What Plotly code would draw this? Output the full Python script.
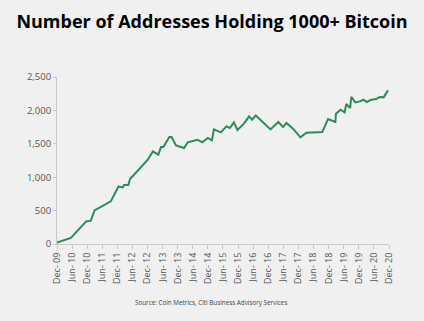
import plotly.graph_objects as go

# Addresses holding at least 1000 BTC, sampled at turning points
dates = [
    "2009-12-01", "2010-05-18", "2010-11-19", "2011-01-15", "2011-02-28",
    "2011-09-13", "2011-12-15", "2012-02-05", "2012-02-21", "2012-04-12",
    "2012-05-03", "2012-12-04", "2013-02-03", "2013-04-10", "2013-05-13",
    "2013-06-10", "2013-08-22", "2013-09-18", "2013-11-10", "2014-02-16",
    "2014-04-01", "2014-07-28", "2014-09-24", "2014-12-01", "2015-01-19",
    "2015-02-12", "2015-05-07", "2015-07-13", "2015-08-24", "2015-10-12",
    "2015-11-24", "2016-02-10", "2016-04-13", "2016-05-19", "2016-07-03",
    "2016-12-28", "2017-04-01", "2017-05-29", "2017-07-09", "2017-09-27",
    "2017-12-25", "2018-03-07", "2018-09-16", "2018-11-24", "2019-02-21",
    "2019-02-28", "2019-04-25", "2019-06-13", "2019-07-03", "2019-08-19",
    "2019-09-02", "2019-10-21", "2019-12-12", "2020-01-28", "2020-03-07",
    "2020-05-01", "2020-06-30", "2020-08-09", "2020-09-27", "2020-11-18",
]
addresses = [
    20, 90, 338, 349, 503,
    638, 862, 847, 883, 883,
    973, 1262, 1386, 1337, 1452,
    1452, 1602, 1602, 1476, 1437,
    1521, 1561, 1521, 1587, 1551,
    1716, 1671, 1760, 1737, 1821,
    1706, 1801, 1910, 1861, 1925,
    1716, 1826, 1751, 1811, 1726,
    1596, 1666, 1676, 1871, 1826,
    1951, 2010, 1970, 2096, 2036,
    2201, 2120, 2135, 2160, 2126,
    2160, 2171, 2201, 2195, 2300,
]

tick_dates = []
tick_labels = []
for yr in range(2009, 2021):
    for mo, name in ((6, "Jun"), (12, "Dec")):
        if (yr == 2009 and mo == 6):
            continue
        tick_dates.append(f"{yr}-{mo:02d}-01")
        tick_labels.append(f"{name}- {str(yr)[2:]}")

y_ticks = [0, 500, 1000, 1500, 2000, 2500]
y_labels = ["0", "500", "1,000", "1,500", "2,000", "2,500"]

bg = "#f0f0f0"
grey = "#555555"

# plot area in pixels: x 57..389, y 77..244
L, R, T, B = 57, 35, 77, 77
W, H = 424, 321
pw, ph = W - L - R, H - T - B

fig = go.Figure(
    go.Scatter(
        x=dates, y=addresses, mode="lines",
        line=dict(color="#2e8b57", width=2),
        hoverinfo="skip",
    )
)

fig.update_layout(
    width=W, height=H,
    paper_bgcolor=bg, plot_bgcolor=bg,
    margin=dict(l=L, r=R, t=T, b=B),
    showlegend=False,
    font=dict(family="Open Sans", color=grey),
    title=dict(
        text="<b>Number of Addresses Holding 1000+ Bitcoin</b>",
        x=0.5, xanchor="center", y=1 - 22 / H, yanchor="middle",
        font=dict(family="Open Sans", size=18, color="#000000"),
    ),
    annotations=[
        dict(
            text="Source: Coin Metrics, Citi Business Advisory Services",
            x=(211 - L) / pw, xref="paper",
            y=-(302 - (H - B)) / ph, yref="paper",
            xanchor="center", yanchor="middle",
            showarrow=False, font=dict(size=6.3, color="#444444"),
        )
    ],
)

fig.update_xaxes(
    type="date",
    range=["2009-12-01", "2020-12-01"],
    tickvals=tick_dates, ticktext=tick_labels,
    tickangle=-90, tickfont=dict(size=9, color=grey),
    showgrid=False, zeroline=False,
    showline=True, linecolor="#c8c8c8", linewidth=1,
    ticks="outside", ticklen=4, tickcolor="#c8c8c8",
)
fig.update_yaxes(
    range=[0, 2500],
    tickvals=y_ticks, ticktext=y_labels,
    tickfont=dict(size=9.5, color=grey),
    showgrid=False, zeroline=False,
    showline=True, linecolor="#c8c8c8", linewidth=1,
    ticks="outside", ticklen=3, tickcolor="#c8c8c8",
)

fig.write_html("out.html")
